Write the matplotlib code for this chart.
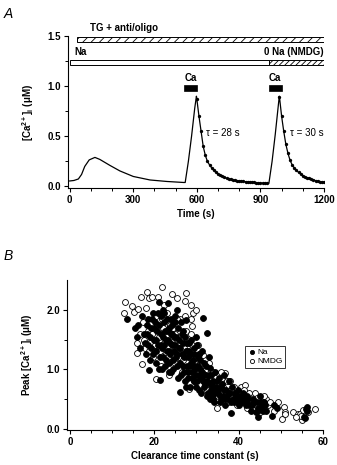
import matplotlib.pyplot as plt
from matplotlib.patches import Rectangle

plt.rcParams['font.family'] = ['Liberation Sans', 'DejaVu Sans']
plt.rcParams['mathtext.default'] = 'regular'
plt.rcParams['hatch.linewidth'] = 0.6

# Panel A: [Ca2+]i trace (time in s, conc in uM)
trace_t = [0, 20, 41, 56, 71, 92, 119, 142, 190, 237, 300, 379, 459, 538, 545,
           560, 575, 590, 598]
trace_y = [0.055, 0.06, 0.075, 0.12, 0.20, 0.265, 0.29, 0.27, 0.21, 0.155, 0.10,
           0.065, 0.05, 0.04, 0.04, 0.25, 0.50, 0.78, 0.90]

fit1_t = [600, 610, 620, 630, 640, 650, 660, 670, 680, 690, 700, 710, 720, 730,
          740, 750, 760, 770, 780, 790, 800, 810, 820, 830, 840, 850, 860, 870,
          880, 890, 900, 910, 920, 930]
fit1_y = [0.87, 0.70, 0.55, 0.40, 0.31, 0.25, 0.215, 0.185, 0.16, 0.14, 0.125,
          0.112, 0.10, 0.09, 0.082, 0.076, 0.071, 0.066, 0.062, 0.058, 0.055,
          0.052, 0.05, 0.048, 0.046, 0.044, 0.042, 0.04, 0.038, 0.036, 0.035,
          0.034, 0.033, 0.032]

rise2_t = [940, 955, 970, 982, 989]
rise2_y = [0.032, 0.25, 0.52, 0.76, 0.90]

fit2_t = [990, 1000, 1010, 1020, 1030, 1040, 1050, 1060, 1070, 1080, 1090, 1100,
          1110, 1120, 1130, 1140, 1150, 1160, 1170, 1180, 1190, 1200]
fit2_y = [0.89, 0.70, 0.55, 0.42, 0.33, 0.26, 0.215, 0.185, 0.16, 0.14, 0.122,
          0.108, 0.097, 0.088, 0.08, 0.072, 0.065, 0.059, 0.054, 0.049, 0.045,
          0.042]

# solution bars: (start, end)
tg_bar = (33, 1200)
na_bar = (0, 940)
nmdg_bar = (940, 1200)
ca_bars = [(540, 600), (940, 1000)]

# Panel B: peak [Ca2+]i vs clearance time constant
na_tau = [13.5, 15.5, 16.0, 16.5, 16.2, 17.0, 17.5, 17.8, 18.0, 18.3, 18.7, 18.9,
          19.2, 19.5, 19.0, 20.0, 20.3, 20.5, 20.8, 21.1, 21.3, 21.5, 21.7, 22.0,
          22.2, 22.5, 22.8, 22.4, 21.9, 23.0, 23.3, 23.5, 23.8, 24.0, 24.2, 24.5,
          24.7, 25.0, 25.3, 25.5, 25.7, 25.0, 24.0, 23.6, 26.0, 26.2, 26.5, 26.8,
          27.0, 27.3, 27.6, 27.8, 28.0, 28.3, 28.5, 28.7, 26.4, 27.2, 28.8, 29.0,
          29.3, 29.6, 30.0, 30.2, 30.5, 30.8, 31.0, 31.3, 31.6, 31.5, 29.8, 30.9,
          32.0, 32.4, 32.3, 32.6, 33.0, 33.2, 33.5, 33.8, 34.0, 34.3, 34.6, 33.0,
          35.0, 35.3, 35.6, 36.0, 36.3, 36.6, 37.0, 37.3, 37.6, 36.8, 38.0, 38.3,
          38.5, 39.0, 39.4, 39.8, 40.0, 40.5, 41.0, 41.5, 42.0, 42.5, 43.0, 43.5,
          44.0, 44.3, 44.8, 45.0, 45.5, 44.5, 46.0, 46.5, 47.8, 48.5, 49.0, 55.4,
          55.8, 56.1, 56.2, 56.0,
          18.2, 18.6, 19.3, 19.6, 19.9, 18.4, 19.7, 20.2, 20.6, 20.9, 21.2, 21.4,
          21.6, 21.8, 20.4, 21.0, 22.1, 22.3, 22.6, 22.9, 23.1, 23.2, 23.4, 23.7,
          23.9, 22.7, 23.5, 22.1, 24.1, 24.3, 24.6, 24.8, 25.1, 25.2, 25.4, 25.6,
          25.8, 24.4, 25.9, 26.1, 26.3, 26.6, 26.9, 27.1, 27.4, 27.7, 27.9, 28.1,
          28.4, 26.7, 27.5, 28.6, 28.9, 29.1, 29.4, 29.7, 29.9, 28.2, 29.5, 30.1,
          30.3, 30.6, 30.7, 31.1, 31.4, 31.7, 31.9, 30.4, 32.1, 32.5, 32.8, 33.1,
          33.4, 33.7, 34.1, 34.4, 34.8, 34.2, 33.3, 35.2, 35.5, 35.8, 36.2, 36.5,
          37.2, 37.8, 38.2, 38.7, 39.2, 39.6, 40.2, 40.8, 41.3, 41.8, 42.3, 43.2,
          43.7, 44.6, 45.3, 45.8, 46.2]
na_peak = [1.85, 1.70, 1.55, 1.35, 1.75, 1.90, 1.60, 1.45, 1.25, 1.75, 0.99, 1.55,
           1.35, 1.85, 1.15, 1.70, 1.50, 1.30, 1.95, 2.13, 0.82, 1.40, 1.60, 1.20,
           1.80, 1.05, 1.50, 1.95, 1.00, 1.65, 2.12, 1.30, 1.45, 0.95, 1.75, 1.15,
           1.55, 1.90, 1.25, 1.99, 0.85, 1.40, 1.85, 1.10, 0.62, 1.35, 1.60, 1.05,
           1.20, 0.80, 1.83, 1.45, 0.95, 1.30, 0.70, 1.10, 1.80, 1.55, 1.50, 0.85,
           1.25, 1.00, 0.70, 1.40, 0.90, 1.15, 0.60, 1.30, 1.87, 0.80, 1.55, 1.00,
           0.75, 1.61, 1.05, 0.55, 0.90, 1.03, 0.65, 0.80, 0.50, 0.95, 0.70, 1.20,
           0.60, 0.85, 0.45, 0.75, 0.55, 0.90, 0.65, 0.50, 0.80, 0.40, 0.60, 0.27,
           0.70, 0.45, 0.55, 0.65, 0.40, 0.50, 0.60, 0.45, 0.55, 0.40, 0.30, 0.50,
           0.28, 0.45, 0.32, 0.55, 0.38, 0.20, 0.45, 0.30, 0.22, 0.40, 0.35, 0.20,
           0.18, 0.37, 0.30, 0.33,
           1.60, 1.40, 1.70, 1.25, 1.50, 1.85, 1.95, 1.80, 1.65, 1.40, 1.75, 1.20,
           1.90, 1.35, 1.10, 1.00, 1.55, 1.40, 1.65, 1.30, 1.85, 1.50, 1.70, 1.25,
           1.60, 1.15, 0.95, 2.00, 1.40, 1.60, 1.30, 1.80, 1.20, 1.55, 1.05, 1.70,
           1.35, 1.00, 1.50, 1.10, 0.90, 1.25, 1.45, 0.95, 1.30, 1.05, 1.20, 0.85,
           1.05, 1.65, 0.70, 1.25, 0.95, 1.15, 0.80, 1.05, 0.90, 1.45, 1.35, 0.80,
           1.05, 0.65, 1.25, 0.85, 0.95, 0.70, 1.10, 1.20, 0.90, 0.80, 0.60, 0.75,
           0.90, 0.55, 0.70, 0.60, 0.80, 0.45, 0.50, 0.65, 0.55, 0.70, 0.50, 0.65,
           0.55, 0.60, 0.45, 0.50, 0.60, 0.45, 0.55, 0.45, 0.55, 0.40, 0.50, 0.40,
           0.45, 0.35, 0.45, 0.30, 0.40]

nmdg_tau = [12.8, 13.0, 14.8, 15.2, 16.2, 16.8, 18.0, 18.2, 18.7, 19.5, 20.9, 21.8,
            22.3, 24.2, 25.3, 27.2, 27.5, 28.8, 29.2, 30.0, 28.8, 29.0, 16.0, 15.8,
            16.5, 17.0, 17.3, 17.8, 18.5, 19.0, 19.8, 20.5, 20.3, 21.0, 21.5, 22.0,
            22.7, 23.0, 23.5, 24.0, 24.5, 25.0, 25.5, 26.0, 26.5, 27.0, 27.5, 28.2,
            28.5, 29.0, 29.5, 30.0, 30.4, 31.0, 31.5, 32.0, 32.5, 33.0, 33.5, 34.0,
            34.8, 34.7, 35.5, 36.0, 36.7, 37.0, 37.5, 38.0, 38.5, 39.0, 39.5, 40.0,
            40.5, 41.5, 41.0, 42.0, 42.5, 43.0, 43.8, 44.0, 44.8, 45.0, 45.8, 46.5,
            47.0, 49.3, 50.2, 50.7, 50.9, 52.9, 54.0, 54.5, 55.0, 55.3, 58.0, 54.8,
            17.5, 18.8, 19.4, 20.1, 20.7, 21.3, 21.9, 22.4, 23.2, 23.8, 24.3, 24.9,
            25.4, 25.9, 26.3, 26.8, 27.3, 27.8, 28.3, 28.6, 29.3, 29.8, 30.5, 31.2,
            31.8, 32.3, 32.8, 33.6, 34.4, 35.2, 35.8, 36.4, 37.3, 38.3, 39.3, 40.3,
            41.3, 42.8, 44.3, 46.0, 47.5, 48.5, 51.0, 53.5, 56.5]
nmdg_peak = [1.95, 2.13, 2.07, 1.97, 2.01, 2.22, 2.03, 2.30, 2.19, 2.22, 2.22, 2.39,
             2.08, 2.27, 2.19, 2.15, 2.29, 2.08, 1.95, 2.00, 1.85, 1.73, 1.27, 1.45,
             1.60, 1.09, 1.80, 1.35, 1.65, 1.45, 1.20, 0.84, 1.90, 1.55, 1.05, 1.70,
             1.25, 1.95, 0.90, 1.50, 1.70, 1.10, 1.45, 1.85, 0.95, 1.35, 1.65, 0.67,
             1.20, 1.40, 0.80, 1.10, 1.40, 0.95, 1.24, 0.85, 0.65, 1.10, 0.75, 0.95,
             0.35, 0.49, 0.70, 0.85, 0.94, 0.60, 0.45, 0.80, 0.55, 0.70, 0.40, 0.60,
             0.70, 0.74, 0.50, 0.35, 0.60, 0.45, 0.60, 0.40, 0.27, 0.35, 0.54, 0.50,
             0.40, 0.45, 0.17, 0.36, 0.29, 0.29, 0.25, 0.25, 0.15, 0.32, 0.34, 0.22,
             1.50, 1.30, 1.60, 1.40, 1.75, 1.30, 1.85, 1.45, 1.20, 1.75, 1.25, 1.60,
             1.85, 1.20, 1.50, 1.15, 1.90, 1.30, 1.00, 1.60, 1.10, 0.95, 1.25, 1.10,
             0.85, 1.00, 0.75, 0.85, 0.85, 0.55, 0.95, 0.70, 0.80, 0.65, 0.55, 0.50,
             0.65, 0.50, 0.52, 0.55, 0.45, 0.30, 0.25, 0.20, 0.28]

W, H = 337, 465
fig = plt.figure(figsize=(W / 100, H / 100), dpi=100)

tick_font = dict(fontsize=7, fontweight='bold')


def style_axes(ax):
    for s in ['top', 'right']:
        ax.spines[s].set_visible(False)
    for s in ['left', 'bottom']:
        ax.spines[s].set_linewidth(0.8)
    ax.tick_params(which='major', length=3, width=0.8, pad=2, labelsize=7)
    ax.tick_params(which='minor', length=2, width=0.7)
    for lab in ax.get_xticklabels() + ax.get_yticklabels():
        lab.set_fontweight('bold')


# ---- Panel A
axA = fig.add_axes([68 / W, 1 - 188 / H, (324 - 68) / W, (188 - 36) / H])
axA.set_xlim(-8, 1200)
axA.set_ylim(-0.015, 1.5)

axA.plot(trace_t + fit1_t + rise2_t + fit2_t, trace_y + fit1_y + rise2_y + fit2_y,
         color='black', lw=0.9)
axA.plot(fit1_t, fit1_y, 'o', color='black', ms=2.4, mew=0)
axA.plot(fit2_t, fit2_y, 'o', color='black', ms=2.4, mew=0)

axA.add_patch(Rectangle((tg_bar[0], 1.44), tg_bar[1] - tg_bar[0], 0.05,
                        facecolor='white', edgecolor='black', hatch='////', lw=0.7))
axA.add_patch(Rectangle((na_bar[0], 1.21), na_bar[1] - na_bar[0], 0.05,
                        facecolor='white', edgecolor='black', lw=0.7))
axA.add_patch(Rectangle((nmdg_bar[0], 1.21), nmdg_bar[1] - nmdg_bar[0], 0.05,
                        facecolor='white', edgecolor='black', hatch='//////', lw=0.7))
for a, b in ca_bars:
    axA.add_patch(Rectangle((a, 0.95), b - a, 0.06, facecolor='black',
                            edgecolor='black', lw=0.5))
    axA.text((a + b) / 2, 1.03, 'Ca', ha='center', va='bottom', **tick_font)

axA.text(95, 1.53, 'TG + anti/oligo', ha='left', va='bottom', **tick_font)
axA.text(24, 1.29, 'Na', ha='left', va='bottom', **tick_font)
axA.text(1200, 1.29, '0 Na (NMDG)', ha='right', va='bottom', **tick_font)
axA.text(645, 0.53, 'τ = 28 s', fontsize=7, va='center')
axA.text(1040, 0.53, 'τ = 30 s', fontsize=7, va='center')

axA.set_xticks([0, 300, 600, 900, 1200])
axA.set_xticks(range(0, 1201, 100), minor=True)
axA.set_yticks([0.0, 0.5, 1.0, 1.5])
axA.set_yticks([0.25, 0.75, 1.25], minor=True)
axA.set_yticklabels(['0.0', '0.5', '1.0', '1.5'])
style_axes(axA)
axA.set_xlabel('Time (s)', fontsize=7, fontweight='bold', labelpad=3)
axA.set_ylabel('[Ca$^{2+}$]$_i$ (μM)', fontsize=7, fontweight='bold', labelpad=8)

fig.text(4 / W, 1 - 14 / H, 'A', fontsize=10, style='italic', va='center')

# ---- Panel B
axB = fig.add_axes([67 / W, 1 - 430 / H, (323 - 67) / W, (430 - 280) / H])
axB.set_xlim(-0.7, 60)
axB.set_ylim(-0.02, 2.5)

axB.scatter(nmdg_tau, nmdg_peak, s=18, facecolor='white', edgecolor='black',
            linewidths=0.6, label='NMDG', zorder=2)
axB.scatter(na_tau, na_peak, s=18, facecolor='black', edgecolor='black',
            linewidths=0.6, label='Na', zorder=3)

axB.set_xticks([0, 20, 40, 60])
axB.set_xticks(range(0, 61, 5), minor=True)
axB.set_yticks([0.0, 1.0, 2.0])
axB.set_yticks([0.5, 1.5], minor=True)
axB.set_yticklabels(['0.0', '1.0', '2.0'])
style_axes(axB)
axB.set_xlabel('Clearance time constant (s)', fontsize=7, fontweight='bold', labelpad=3)
axB.set_ylabel('Peak [Ca$^{2+}$]$_i$ (μM)', fontsize=7, fontweight='bold', labelpad=8)

handles, labels = axB.get_legend_handles_labels()
leg = axB.legend(handles[::-1], labels[::-1], loc='upper left',
                 bbox_to_anchor=(0.695, 0.56), fontsize=6,
                 frameon=True, fancybox=False, handletextpad=0.2, borderpad=0.3,
                 labelspacing=0.1, handlelength=1.0, markerscale=0.7, borderaxespad=0)
leg.get_frame().set_edgecolor('black')
leg.get_frame().set_linewidth(0.7)

fig.text(4 / W, 1 - 256 / H, 'B', fontsize=10, style='italic', va='center')

fig.savefig('out.png', dpi=100)
